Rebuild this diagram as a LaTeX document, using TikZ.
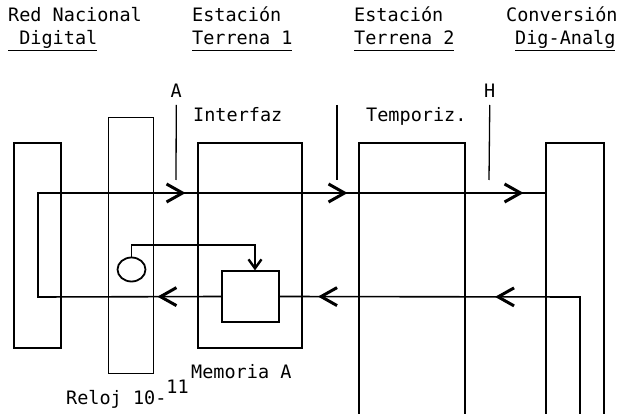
\documentclass[tikz,border=0pt]{standalone}
\usepackage{fontspec}
\newfontfamily\maquina{DejaVu Sans Mono}
\usetikzlibrary{arrows.meta,positioning,shapes.geometric,decorations.markings}
\newcommand{\subrayado}[1]{\setbox0\hbox{#1}\rlap{\rule[-6.5pt]{\wd0}{1.4pt}}\box0}
\tikzset{
  bloque/.style={rectangle,draw,line width=1.2pt,inner sep=0pt},
  rotulo/.style={anchor=base west,inner sep=0pt,font=\maquina\fontsize{18.5}{20}\selectfont},
  senal/.style={line width=1.6pt},
  marca/.style={line width=1.3pt},
  flecha/.tip={Straight Barb[length=16pt,width=18pt,line width=3pt]}
}
\begin{document}
\begin{tikzpicture}[x=1pt,y=-1pt]
\useasboundingbox (0,0) rectangle (624,414);
\clip (0,0) rectangle (624,414);
% encabezados
\node[rotulo] (t1a) at (8,22) {Red Nacional};
\node[rotulo] (t1b) at (8,45) {\subrayado{~Digital}};
\node[rotulo] (t2a) at (192,22) {Estación};
\node[rotulo] (t2b) at (192,45) {\subrayado{Terrena 1}};
\node[rotulo] (t3a) at (354,22) {Estación};
\node[rotulo] (t3b) at (354,45) {\subrayado{Terrena 2}};
\node[rotulo] (t4a) at (506,22) {Conversión};
\node[rotulo] (t4b) at (515,45) {\subrayado{Dig-Analg}};
% bloques
\node[bloque,minimum width=47pt,minimum height=205pt] (red) at (37.5,245.5) {};
\node[bloque,line width=0.8pt,minimum width=45pt,minimum height=256pt] (reloj) at (130.5,245) {};
\node[bloque,minimum width=104pt,minimum height=205pt] (interfaz) at (250,245.5) {};
\node[bloque,minimum width=106pt,minimum height=307pt] (temporiz) at (412,296.5) {};
\node[bloque,minimum width=58pt,minimum height=307pt] (conv) at (575,296.5) {};
\node[bloque,minimum width=57pt,minimum height=51pt] (memoria) at (250.5,296.5) {};
\node[ellipse,draw,line width=1.8pt,inner sep=0pt,minimum width=28pt,minimum height=24pt] (circ) at (131.5,269.5) {};
% rotulos
\node[rotulo] (A) at (170.5,98) {A};
\node[rotulo] (H) at (484,98) {H};
\node[rotulo] (lint) at (193,122) {Interfaz};
\node[rotulo] (ltemp) at (366,122) {Temporiz.};
\node[rotulo] (lmem) at (191,378) {Memoria A};
\node[rotulo] (lrel) at (66,404) {Reloj 10-\raisebox{11pt}{11}};
% marcas
\coordinate (pieA) at (176,180);
\coordinate (m1) at (337,105);
\coordinate (m2) at (337,180);
\coordinate (pieH) at (489,180);
\draw[marca] (A.south |- 0,105) -- (pieA);
\draw[marca] (m1) -- (m2);
\draw[marca] (H.south |- 0,105) -- (pieH);
% lazo
\coordinate (sup) at (38,193);
\coordinate (inf) at (38,297);
\coordinate (bajada) at (580,297);
\coordinate (fondo) at (580,420);
\draw[senal,postaction={decorate,decoration={markings,
    mark=at position 64pt with {\arrow{flecha}},
    mark=at position 435pt with {\arrow{flecha}},
    mark=at position 597pt with {\arrow{flecha}},
    mark=at position 773pt with {\arrow{flecha}}}}]
  (memoria.west) -- (inf) -- (sup) -- (sup -| conv.west);
\draw[senal,postaction={decorate,decoration={markings,
    mark=at position 208pt with {\arrow{flecha}},
    mark=at position 385pt with {\arrow{flecha}}}}]
  (fondo) -- (bajada) -- (memoria.east);
% reloj
\coordinate (codo) at (255,245);
\draw[senal,-{Straight Barb[length=9pt,width=13pt,line width=2.4pt]}] (circ.north) |- (codo) -- (codo |- memoria.north);
\end{tikzpicture}
\end{document}
